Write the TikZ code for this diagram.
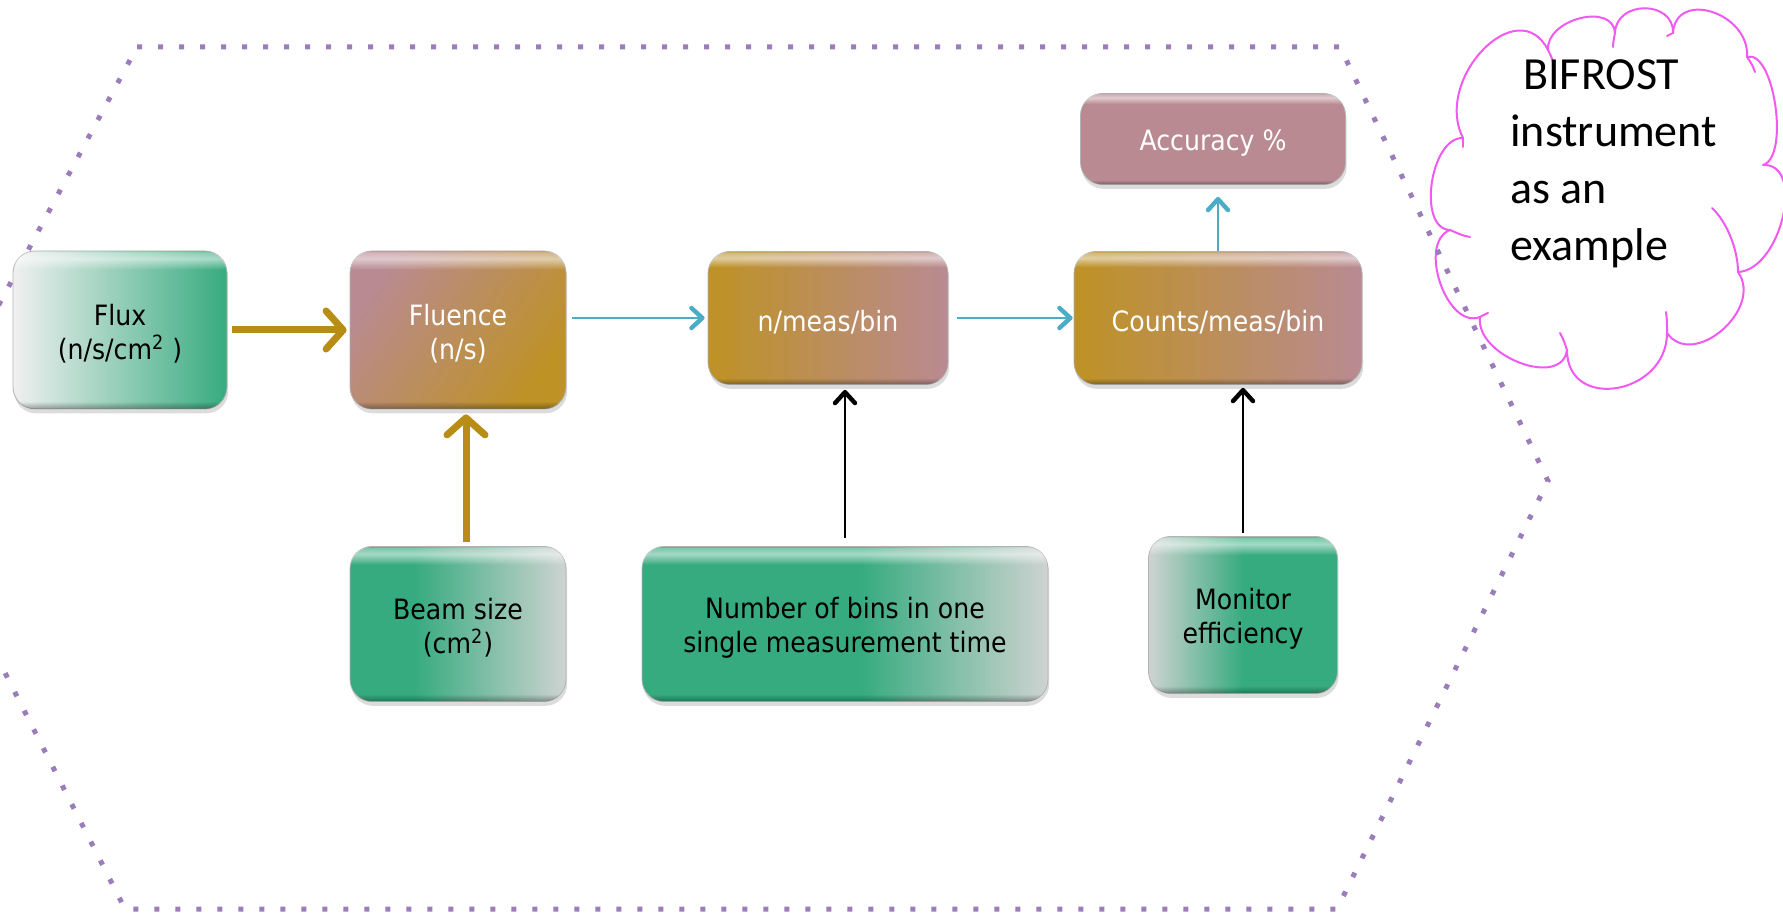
\documentclass[tikz,border=0pt]{standalone}
\usepackage{fontspec}
\setmainfont{DejaVu Sans}[FakeStretch=0.9]
\newfontfamily\cloudfont{Carlito}
\usetikzlibrary{arrows.meta,shadows,fadings}

% palette
\definecolor{boxgreen}{RGB}{55,171,128}
\definecolor{boxgrey}{RGB}{206,211,209}
\definecolor{boxwhite}{RGB}{240,240,240}
\definecolor{boxgold}{RGB}{190,146,36}
\definecolor{boxmauve}{RGB}{185,138,146}
\definecolor{goldline}{RGB}{184,141,22}
\definecolor{cyanline}{RGB}{75,172,198}
\definecolor{hexpurple}{RGB}{155,125,185}
\definecolor{cloudpink}{RGB}{240,90,240}

% green fading to grey on the right (two variants) and grey fading into green
\pgfdeclarehorizontalshading{greenwide}{100bp}{color(0bp)=(boxgreen); color(25bp)=(boxgreen); color(52bp)=(boxgreen); color(75bp)=(boxgrey); color(100bp)=(boxgrey)}
\pgfdeclarehorizontalshading{greenshort}{100bp}{color(0bp)=(boxgreen); color(25bp)=(boxgreen); color(40bp)=(boxgreen); color(75bp)=(boxgrey); color(100bp)=(boxgrey)}
\pgfdeclarehorizontalshading{greyleft}{100bp}{color(0bp)=(boxgrey); color(25bp)=(boxgrey); color(50bp)=(boxgreen); color(75bp)=(boxgreen); color(100bp)=(boxgreen)}

% glossy top band and dark bottom rim
\pgfdeclareverticalshading{glossshade}{100bp}{color(0bp)=(black); color(69bp)=(black); color(72.5bp)=(white!55!black); color(74.5bp)=(white!35!black); color(75bp)=(black); color(100bp)=(black)}
\pgfdeclarefading{glossfade}{\pgfuseshading{glossshade}}
\pgfdeclareverticalshading{rimshade}{100bp}{color(0bp)=(black); color(25bp)=(white!35!black); color(27.5bp)=(black); color(100bp)=(black)}
\pgfdeclarefading{rimfade}{\pgfuseshading{rimshade}}

% strut that lowers the first line a little
\newcommand{\firstline}{\rule{0pt}{14.5pt}}

\tikzset{
  basebox/.style={rectangle, rounded corners=11pt, inner sep=0pt, align=center,
    draw=black!30, line width=0.4pt,
    drop shadow={opacity=0.28, shadow xshift=0.6pt, shadow yshift=-2.2pt},
    postaction={fill=white, path fading=glossfade},
    postaction={fill=black, path fading=rimfade},
    font=\fontsize{14}{17}\selectfont},
  greenbox/.style={basebox, text=black},
  goldbox/.style={basebox, text=white},
  goldarrow/.style={draw=goldline, line width=3.5pt,
    -{Straight Barb[length=8.5pt,width=19pt,round]}},
  cyanarrow/.style={draw=cyanline, line width=1pt,
    -{Straight Barb[length=5.5pt,width=10pt,line width=2.2pt,round]}},
  blackarrow/.style={draw=black, line width=1pt,
    -{Straight Barb[length=5.5pt,width=10pt,line width=2.2pt,round]}},
  hexdots/.style={draw=hexpurple, line width=2.5pt, line cap=butt,
    dash pattern=on 2.5pt off 8pt},
  cloudline/.style={draw=cloudpink, line width=1pt, line cap=round, line join=round},
}

\begin{document}
\begin{tikzpicture}[x=0.5pt, y=-0.5pt]
\useasboundingbox (0,0) rectangle (1783,913);

% thought cloud
\draw[cloudline, fill=white]
  (1548,50) .. controls (1518,-9) and (1433,79) .. (1463,138)
  .. controls (1430,137) and (1417,229) .. (1450,230)
  .. controls (1417,243) and (1447,330) .. (1480,317)
  .. controls (1475,356) and (1562,389) .. (1567,350)
  .. controls (1567,412) and (1667,395) .. (1667,333)
  .. controls (1693,370) and (1764,309) .. (1738,272)
  .. controls (1781,270) and (1806,163) .. (1763,165)
  .. controls (1790,157) and (1774,49) .. (1747,57)
  .. controls (1750,13) and (1676,-11) .. (1673,33)
  .. controls (1674,0) and (1616,0) .. (1615,33)
  .. controls (1613,2) and (1546,19) .. (1548,50) -- cycle;
% inner puff seams
\draw[cloudline] (1738,272) .. controls (1738,250) and (1727,222) .. (1712,208);
\draw[cloudline] (1667,333) .. controls (1667,325) and (1667,318) .. (1666,312);
\draw[cloudline] (1567,350) .. controls (1565,344) and (1563,338) .. (1560,333);
\draw[cloudline] (1480,317) .. controls (1483,315) and (1486,314) .. (1488,313);
\draw[cloudline] (1450,230) .. controls (1457,233) and (1463,236) .. (1470,237);
\draw[cloudline] (1463,138) -- (1463,147);
\draw[cloudline] (1615,33) .. controls (1614,38) and (1613,43) .. (1613,47);
\draw[cloudline] (1673,33) .. controls (1671,34) and (1669,35) .. (1667,36);
\draw[cloudline] (1747,57) .. controls (1750,61) and (1753,66) .. (1755,72);
\draw[cloudline] (1548,50) .. controls (1550,54) and (1552,58) .. (1553,62);

\node[anchor=north west, inner sep=0pt, align=left,
      font=\cloudfont\fontsize{23}{28.5}\selectfont] (cloudlabel) at (1510,59)
  {\hspace*{0.28em}BIFROST\\instrument\\as an\\example};

% dotted hexagon
\draw[hexdots] (137,47) -- (1340,47) -- (1548,481) -- (1337,909)
  -- (125,909) -- (-94,478) -- cycle;

% boxes
\node[greenbox, left color=boxwhite, right color=boxgreen,
      minimum width=107pt, minimum height=79pt] (flux) at (120,330)
  {\firstline Flux\\(n/s/cm\textsuperscript{2} )};
\node[goldbox, top color=boxmauve, bottom color=boxgold, shading angle=55,
      minimum width=108pt, minimum height=79pt] (fluence) at (458,330)
  {\firstline Fluence\\(n/s)};
\node[goldbox, left color=boxgold, right color=boxmauve,
      minimum width=120pt, minimum height=66.5pt] (nmeas) at (828,318)
  {\firstline n/meas/bin};
\node[goldbox, left color=boxgold, right color=boxmauve,
      minimum width=144pt, minimum height=66.5pt] (counts) at (1218,318)
  {\firstline Counts/meas/bin};
\node[goldbox, fill=boxmauve,
      minimum width=132.5pt, minimum height=45.5pt] (accuracy) at (1213,139)
  {\firstline Accuracy \%};
\node[greenbox, shading=greenshort,
      minimum width=108pt, minimum height=77.5pt] (beam) at (458,624)
  {\firstline Beam size\\(cm\textsuperscript{2})};
\node[greenbox, shading=greenwide,
      minimum width=203pt, minimum height=77.5pt] (number) at (845,624)
  {\firstline Number of bins in one\\single measurement time};
\node[greenbox, shading=greyleft,
      minimum width=94.5pt, minimum height=78.5pt] (monitor) at (1243,615)
  {\firstline Monitor\\efficiency};

% connectors
\draw[goldarrow, shorten <=2.5pt, shorten >=1.5pt] (flux.east) -- (fluence.west);
\draw[goldarrow, shorten <=2pt, shorten >=2.5pt]
  ([xshift=4pt]beam.north) -- ([xshift=4pt]fluence.south);
\draw[cyanarrow, shorten <=3pt, shorten >=1.5pt] (fluence.east |- nmeas.west) -- (nmeas.west);
\draw[cyanarrow, shorten <=4.5pt, shorten >=0.5pt] (nmeas.east) -- (counts.west);
\draw[cyanarrow, shorten >=6pt] (counts.north) -- (counts.north |- accuracy.south);
\draw[blackarrow, shorten <=4pt, shorten >=2.5pt] (number.north) -- (number.north |- nmeas.south);
\draw[blackarrow, shorten <=1.5pt, shorten >=1.5pt] (monitor.north) -- (monitor.north |- counts.south);
\end{tikzpicture}
\end{document}
